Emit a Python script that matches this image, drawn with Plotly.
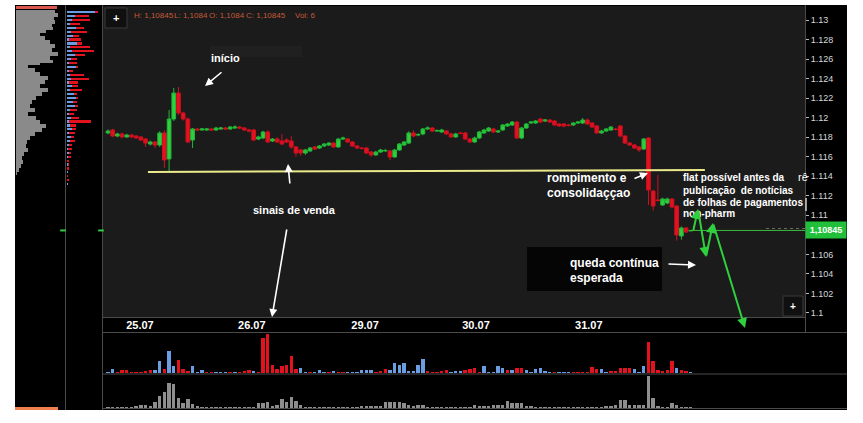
import plotly.graph_objects as go

# ---------------- data ----------------
opens = [1.11843,1.11874,1.11812,1.11833,1.11802,1.11822,1.11812,1.11802,1.11781,1.11730,
         1.11751,1.11720,1.11843,1.11577,1.11986,1.12252,1.12048,1.11986,1.11771,1.11884,
         1.11874,1.11874,1.11884,1.11874,1.11884,1.11894,1.11884,1.11894,1.11904,1.11894,
         1.11874,1.11874,1.11781,1.11792,1.11853,1.11761,1.11781,1.11761,1.11771,1.11761,
         1.11700,1.11669,1.11638,1.11659,1.11700,1.11689,1.11710,1.11720,1.11740,1.11700,
         1.11781,1.11781,1.11751,1.11710,1.11689,1.11689,1.11648,1.11618,1.11648,1.11659,
         1.11659,1.11597,1.11669,1.11720,1.11740,1.11843,1.11822,1.11833,1.11884,1.11894,
         1.11863,1.11853,1.11863,1.11833,1.11802,1.11843,1.11843,1.11781,1.11751,1.11792,
         1.11843,1.11863,1.11884,1.11853,1.11874,1.11915,1.11925,1.11955,1.11792,1.11894,
         1.11945,1.11945,1.11986,1.11966,1.11976,1.11966,1.11935,1.11935,1.11925,1.11925,
         1.11945,1.11945,1.11976,1.11945,1.11915,1.11843,1.11863,1.11874,1.11884,1.11915,
         1.11812,1.11740,1.11720,1.11700,1.11679,1.11792,1.11249,1.11157,1.11106,1.11126,
         1.11167,1.11095,1.10788,1.10870,1.10840]
closes = [1.11863,1.11812,1.11833,1.11802,1.11822,1.11802,1.11792,1.11771,1.11740,1.11751,
          1.11720,1.11843,1.11566,1.11986,1.12252,1.12048,1.11986,1.11751,1.11884,1.11874,
          1.11884,1.11884,1.11874,1.11894,1.11894,1.11884,1.11904,1.11904,1.11894,1.11874,
          1.11863,1.11771,1.11802,1.11853,1.11751,1.11781,1.11751,1.11730,1.11751,1.11700,
          1.11638,1.11638,1.11669,1.11689,1.11679,1.11710,1.11730,1.11740,1.11700,1.11781,
          1.11792,1.11751,1.11710,1.11689,1.11684,1.11638,1.11618,1.11648,1.11669,1.11664,
          1.11597,1.11669,1.11730,1.11751,1.11843,1.11812,1.11827,1.11884,1.11894,1.11863,
          1.11868,1.11874,1.11833,1.11802,1.11833,1.11838,1.11781,1.11751,1.11792,1.11853,
          1.11874,1.11894,1.11853,1.11863,1.11925,1.11935,1.11955,1.11792,1.11894,1.11935,
          1.11955,1.11966,1.11955,1.11976,1.11955,1.11925,1.11915,1.11915,1.11920,1.11945,
          1.11955,1.11976,1.11935,1.11904,1.11843,1.11863,1.11884,1.11904,1.11879,1.11812,
          1.11740,1.11720,1.11689,1.11669,1.11781,1.11259,1.11095,1.11152,1.11167,1.11167,
          1.11085,1.10798,1.10870,1.10829,1.10845]
highs = [1.11880,1.11885,1.11845,1.11845,1.11835,1.11830,1.11820,1.11810,1.11790,1.11765,
         1.11760,1.11860,1.11870,1.12078,1.12304,1.12314,1.12060,1.12000,1.11895,1.11895,
         1.11895,1.11890,1.11895,1.11905,1.11905,1.11905,1.11915,1.11920,1.11915,1.11905,
         1.11885,1.11885,1.11815,1.11865,1.11870,1.11790,1.11800,1.11830,1.11790,1.11810,
         1.11710,1.11680,1.11680,1.11700,1.11710,1.11720,1.11740,1.11750,1.11750,1.11790,
         1.11805,1.11790,1.11760,1.11720,1.11700,1.11700,1.11660,1.11660,1.11680,1.11680,
         1.11670,1.11680,1.11740,1.11760,1.11860,1.11870,1.11840,1.11895,1.11910,1.11905,
         1.11880,1.11885,1.11875,1.11845,1.11845,1.11855,1.11855,1.11790,1.11805,1.11865,
         1.11885,1.11905,1.11895,1.11875,1.11935,1.11945,1.11966,1.11966,1.11905,1.11945,
         1.11966,1.11976,1.11996,1.11986,1.11986,1.11976,1.11945,1.11945,1.11935,1.11955,
         1.11966,1.11996,1.11990,1.11955,1.11925,1.11875,1.11895,1.11915,1.11895,1.11925,
         1.11820,1.11750,1.11730,1.11710,1.11792,1.11800,1.11260,1.11413,1.11180,1.11180,
         1.11175,1.11105,1.10885,1.10880,1.10845]
lows = [1.11830,1.11800,1.11800,1.11790,1.11795,1.11795,1.11785,1.11760,1.11700,1.11715,
        1.11690,1.11700,1.11484,1.11444,1.11966,1.12027,1.11970,1.11740,1.11689,1.11865,
        1.11865,1.11865,1.11865,1.11865,1.11875,1.11875,1.11875,1.11885,1.11885,1.11865,
        1.11850,1.11760,1.11770,1.11780,1.11740,1.11750,1.11740,1.11720,1.11740,1.11680,
        1.11600,1.11610,1.11620,1.11650,1.11670,1.11680,1.11700,1.11710,1.11690,1.11690,
        1.11770,1.11740,1.11700,1.11680,1.11675,1.11630,1.11600,1.11610,1.11640,1.11650,
        1.11566,1.11590,1.11660,1.11710,1.11730,1.11800,1.11810,1.11820,1.11875,1.11855,
        1.11855,1.11845,1.11825,1.11795,1.11795,1.11830,1.11770,1.11740,1.11740,1.11780,
        1.11835,1.11855,1.11845,1.11845,1.11865,1.11905,1.11915,1.11780,1.11780,1.11885,
        1.11935,1.11935,1.11945,1.11955,1.11945,1.11915,1.11905,1.11900,1.11910,1.11915,
        1.11935,1.11935,1.11925,1.11895,1.11835,1.11835,1.11855,1.11865,1.11870,1.11800,
        1.11730,1.11710,1.11680,1.11650,1.11669,1.11106,1.11050,1.11140,1.11095,1.11115,
        1.11070,1.10740,1.10750,1.10820,1.10840]

vol_delta = [1,4,1,3,3,1,1,1,2,3,3,12,4,22,7,13,4,2,7,1,
             3,1,1,1,1,1,1,1,1,2,3,2,1,35,39,8,4,7,8,17,
             4,5,1,1,1,3,1,1,2,1,1,1,1,1,3,3,3,1,2,4,
             3,10,8,10,2,2,8,14,2,1,1,2,3,1,2,2,3,4,5,1,
             7,1,1,7,5,3,3,5,5,3,1,4,5,2,1,1,1,1,1,1,
             1,1,1,6,4,4,1,2,2,5,5,5,4,1,7,31,12,3,2,3,
             12,5,3,2,1]
vol_side = ["b","b","r","r","r","r","r","r","r","r","b","b","r","b","b","r","r","r","b","b",
            "b","r","r","b","b","b","r","b","r","r","r","b","r","r","r","r","r","r","r","r",
            "r","b","b","r","b","b","b","r","b","r","r","b","b","b","b","b","b","r","r","r",
            "b","b","b","b","b","b","b","b","r","r","r","r","r","b","b","b","r","r","r","r",
            "b","b","b","b","b","r","b","r","r","b","b","b","b","b","b","r","b","b","b","r",
            "r","r","r","r","r","b","b","r","r","r","r","r","b","b","b","r","r","r","r","r",
            "r","b","r","r","b"]
vol_total = [1,1,1,1,1,1,2,3,3,2,6,12,17,26,25,10,5,9,4,2,
             1,1,1,0.5,0.5,0.5,0.5,0.5,0.5,0.5,1,1,5,5,6,2,3,9,6,11,
             7,3,1,1,1,1,1,0.5,0.5,0.5,0.5,0.5,0.5,0.5,2,2,2,2,2,6,
             6,6,6,5,3,2,3,3,1,1,1,1,1,1,1,1,1,1,3,2,
             2,2,3,3,3,7,5,5,5,2,2,1,1,1,0.5,0.5,0.5,0.5,0.5,0.5,
             1,1,1,1,1,1,2,2,3,8,8,3,3,3,3,33,10,2,1,1,
             5,3,1,1,1]

date_ticks = [6.8, 30.6, 54.7, 78.3, 102.3]
date_labels = ["25.07", "26.07", "29.07", "30.07", "31.07"]
price_ticks = [1.1, 1.102, 1.104, 1.106, 1.11, 1.112, 1.114, 1.116, 1.118, 1.12,
               1.122, 1.124, 1.126, 1.128, 1.13]
price_labels = ["1.1", "1.102", "1.104", "1.106", "1.11", "1.112", "1.114", "1.116", "1.118",
                "1.12", "1.122", "1.124", "1.126", "1.128", "1.13"]

# header (last bar)
header_items = ["H: 1,10845", "L: 1,1084", "O: 1,1084", "C: 1,10845", "Vol: 6"]

# long-term volume profile (left panel)
profile_prices = [1.13102,1.13072,1.13031,1.13000,1.12959,1.12928,1.12898,1.12867,1.12836,1.12795,
                  1.12754,1.12713,1.12672,1.12631,1.12590,1.12560,1.12539,1.12508,1.12468,1.12427,
                  1.12386,1.12345,1.12304,1.12263,1.12222,1.12181,1.12140,1.12099,1.12058,1.12017,
                  1.11976,1.11935,1.11894,1.11853,1.11812,1.11771,1.11730,1.11689,1.11648,1.11607,
                  1.11566,1.11525,1.11484,1.11444,1.11413]
profile_vol = [39,42,38,39,36,37,30,24,29,34,39,36,42,34,37,24,12,19,24,32,
               29,24,32,26,20,16,14,19,12,20,24,30,26,19,14,11,10,12,8,6,
               7,5,3,1,0]

# buy / sell volume at price (second left panel)
level_prices = [1.1308,1.1304,1.1300,1.1296,1.1292,1.1288,1.1284,1.1280,1.1276,1.1272,
                1.1268,1.1264,1.1260,1.1256,1.1252,1.1248,1.1244,1.1240,1.1236,1.1232,
                1.1228,1.1224,1.1220,1.1216,1.1212,1.1208,1.1204,1.1200,1.1196,1.1192,
                1.1188,1.1184,1.1180,1.1176,1.1172,1.1168,1.1164,1.1160,1.1156,1.1152,
                1.1148,1.1144,1.1140,1.1136,1.1132]
level_buy = [28,8,5,3,9,4,6,2,10,3,5,8,4,2,9,2,3,4,2,5,3,7,9,6,8,3,2,4,2,3,
             5,2,4,3,2,1,2,1,0,1,0,1,0,0,1]
level_sell = [3,14,18,10,8,16,6,12,5,20,22,10,6,8,2,4,14,18,9,6,12,3,2,4,3,7,5,8,22,6,
              4,6,3,5,3,4,2,3,2,1,2,0,1,2,0]

support_level = [1.11444, 1.11464]
support_span = [8.5, 127.0]

# ---------------- geometry helpers ----------------
W, H = 863, 423
def px(x):
    return x / W
def py(y):
    return 1 - y / H

RED = "#e2121f"
GREEN = "#2fcf3f"
BLUE = "#6b9de3"
n = len(closes)
idx = list(range(n))

fig = go.Figure()

fig.add_trace(go.Candlestick(
    x=idx, open=opens, high=highs, low=lows, close=closes,
    increasing=dict(line=dict(color="#22b838", width=1), fillcolor=GREEN),
    decreasing=dict(line=dict(color="#d01020", width=1), fillcolor=RED),
    whiskerwidth=0, xaxis="x", yaxis="y", showlegend=False, hoverinfo="skip"))

fig.add_trace(go.Bar(
    x=idx, y=vol_delta, width=0.72,
    marker=dict(color=[BLUE if s == "b" else RED for s in vol_side], line=dict(width=0)),
    xaxis="x", yaxis="y2", showlegend=False, hoverinfo="skip"))

fig.add_trace(go.Bar(
    x=idx, y=vol_total, width=0.72,
    marker=dict(color="#8e8e8e", line=dict(width=0)),
    xaxis="x", yaxis="y3", showlegend=False, hoverinfo="skip"))

fig.add_trace(go.Scatter(
    x=profile_vol, y=profile_prices, mode="lines", line=dict(width=0, shape="vh"),
    fill="tozerox", fillcolor="#8a8a8a", xaxis="x3", yaxis="y",
    showlegend=False, hoverinfo="skip"))

fig.add_trace(go.Bar(
    x=level_buy, y=level_prices, orientation="h", width=0.00022,
    marker=dict(color=BLUE, line=dict(width=0)), xaxis="x4", yaxis="y",
    showlegend=False, hoverinfo="skip"))
fig.add_trace(go.Bar(
    x=level_sell, y=level_prices, orientation="h", width=0.00022,
    marker=dict(color=RED, line=dict(width=0)), xaxis="x4", yaxis="y",
    showlegend=False, hoverinfo="skip"))

fig.add_trace(go.Scatter(
    x=[profile_vol[0] + 8], y=[closes[-1]], mode="markers",
    marker=dict(symbol="line-ew", size=4, line=dict(color=GREEN, width=2)),
    xaxis="x3", yaxis="y", showlegend=False, hoverinfo="skip", cliponaxis=False))
fig.add_trace(go.Scatter(
    x=[34], y=[closes[-1]], mode="markers",
    marker=dict(symbol="line-ew", size=4, line=dict(color=GREEN, width=2)),
    xaxis="x4", yaxis="y", showlegend=False, hoverinfo="skip", cliponaxis=False))

x_lo = -1.06
x_hi = x_lo + (805 - 103) / 4.7

shapes = []
def prect(x0, y0, x1, y1, fill, line=None, layer="below"):
    shapes.append(dict(type="rect", xref="paper", yref="paper",
                       x0=px(x0), x1=px(x1), y0=py(y1), y1=py(y0),
                       fillcolor=fill, line=dict(width=1 if line else 0, color=line or fill),
                       layer=layer))
def pline(x0, y0, x1, y1, color, width=1, dash="solid", layer="below"):
    shapes.append(dict(type="line", xref="paper", yref="paper",
                       x0=px(x0), x1=px(x1), y0=py(y0), y1=py(y1),
                       line=dict(color=color, width=width, dash=dash), layer=layer))

prect(15, 5, 847, 410, "#000000")
prect(103, 6, 805, 317, "#1b1b1b")
prect(210, 46, 302, 57, "#202020")
prect(527, 247, 662, 291, "#050505")
pline(805.5, 5, 805.5, 332, "#4a4a4a")
pline(103, 317.5, 805, 317.5, "#4a4a4a")
pline(103, 332.5, 847, 332.5, "#4a4a4a")
pline(103, 374, 847, 374, "#4a4a4a")
pline(103, 408.5, 847, 408.5, "#4a4a4a")
pline(102.5, 5, 102.5, 410, "#4a4a4a")
pline(65.5, 5, 65.5, 410, "#4a4a4a")
prect(16, 6, 57, 9, "#d9574f")
prect(15, 407, 58, 410, "#f0804f", layer="above")
prect(105, 8, 127, 28, "#101010", "#3a3a3a", layer="above")
prect(783, 296, 803, 316, "#101010", "#3a3a3a", layer="above")
pline(806, 198, 806, 211, "#cfcfcf", 1.5, layer="above")

shapes.append(dict(type="line", xref="x", yref="y",
                   x0=support_span[0], x1=support_span[1],
                   y0=support_level[0], y1=support_level[1],
                   line=dict(color="#eaea8c", width=2), layer="above"))
shapes.append(dict(type="line", xref="x", yref="y",
                   x0=idx[-1], x1=x_hi, y0=closes[-1], y1=closes[-1],
                   line=dict(color="#3dbb3d", width=1), layer="above"))
shapes.append(dict(type="line", xref="x", yref="y",
                   x0=idx[-1] + 16, x1=x_hi, y0=closes[-1] + 0.0002, y1=closes[-1] + 0.0002,
                   line=dict(color="#6a6a6a", width=1, dash="dot"), layer="above"))

ann = []
FONT = "Liberation Sans, Arial, sans-serif"
def text(x, y, s, size=11, color="white", xanchor="center", bold=True, **kw):
    ann.append(dict(x=px(x), y=py(y), xref="paper", yref="paper", text=(f"<b>{s}</b>" if bold else s),
                    showarrow=False, xanchor=xanchor, yanchor="middle",
                    font=dict(family=FONT, size=size, color=color), **kw))
def arrow(tail, head, color="white", width=1.6, size=1.0):
    ann.append(dict(x=px(head[0]), y=py(head[1]), xref="paper", yref="paper",
                    ax=tail[0] - head[0], ay=tail[1] - head[1], axref="pixel", ayref="pixel",
                    text="", showarrow=True, arrowhead=2, arrowsize=size,
                    arrowwidth=width, arrowcolor=color))

for hx, item in zip([132, 172, 207, 244, 293], header_items):
    text(hx, 15, item, 8, "#c45a3a", "left", bold=False)
text(116, 18, "+", 11, "white")
text(793, 306, "+", 10, "white")
text(225, 58, "início", 11)
text(294, 210, "sinais de venda", 11)
text(545, 178, "rompimento e", 12, xanchor="left")
text(545, 193, "consolidaççao", 12, xanchor="left")
text(681, 178, "flat possível antes da", 10, xanchor="left")
text(681, 190, "publicação  de notícias", 10, xanchor="left")
text(681, 202, "de folhas de pagamentos", 10, xanchor="left")
text(681, 214, "non-pharm", 10, xanchor="left")
text(568, 263, "queda contínua", 12, xanchor="left")
text(568, 278, "esperada", 12, xanchor="left")
text(796, 177, "rê", 11, xanchor="left", bold=False)

arrow((223, 71), (205, 86))
arrow((290, 185), (288, 164))
arrow((287, 228), (272, 317))
arrow((633, 179), (648, 173))
arrow((667, 264), (696, 265))
arrow((693, 232), (698, 209), GREEN, 2)
arrow((698, 209), (706, 257), GREEN, 2)
arrow((706, 257), (713, 223), GREEN, 2)
arrow((713, 223), (745, 328), GREEN, 2)

ann.append(dict(x=px(826), y=closes[-1], xref="paper", yref="y",
                text="<b>" + f"{closes[-1]:.5f}".replace(".", ",") + "</b>",
                showarrow=False, bgcolor="#22c03a", width=38, height=14,
                font=dict(family=FONT, size=9, color="white"), xanchor="center", yanchor="middle"))

fig.update_layout(
    width=W, height=H, margin=dict(l=0, r=0, t=0, b=0),
    paper_bgcolor="white", plot_bgcolor="black",
    barmode="stack", bargap=0, boxgap=0.1, boxgroupgap=0.12, showlegend=False,
    shapes=shapes, annotations=ann,
    xaxis=dict(domain=[px(103), px(805)], range=[x_lo, x_hi], anchor="y",
               tickvals=date_ticks, ticktext=date_labels, ticks="", showgrid=False,
               zeroline=False, showline=False,
               tickfont=dict(family=FONT, size=11, color="white", weight="bold"),
               rangeslider=dict(visible=False), fixedrange=True),
    yaxis=dict(domain=[py(317), py(6)], range=[1.13 - 297 * 0.0001024, 1.13 + 14 * 0.0001024],
               side="right", anchor="x", tickvals=price_ticks, ticktext=price_labels,
               ticks="outside", ticklen=3, tickcolor="#bbbbbb", showgrid=False, zeroline=False,
               tickfont=dict(family=FONT, size=9, color="#d8d8d8"), showline=False),
    yaxis2=dict(domain=[py(373), py(333)], range=[0, 40], anchor="x", visible=False),
    yaxis3=dict(domain=[py(408), py(375)], range=[0, 34], anchor="x", visible=False),
    xaxis3=dict(domain=[px(16), px(64)], range=[0, 48], anchor="y", visible=False),
    xaxis4=dict(domain=[px(67), px(101)], range=[0, 34], anchor="y", visible=False),
)

fig.write_html("out.html", config={"displayModeBar": False},
               post_script="document.body.style.margin='0';document.body.style.overflow='hidden';")
